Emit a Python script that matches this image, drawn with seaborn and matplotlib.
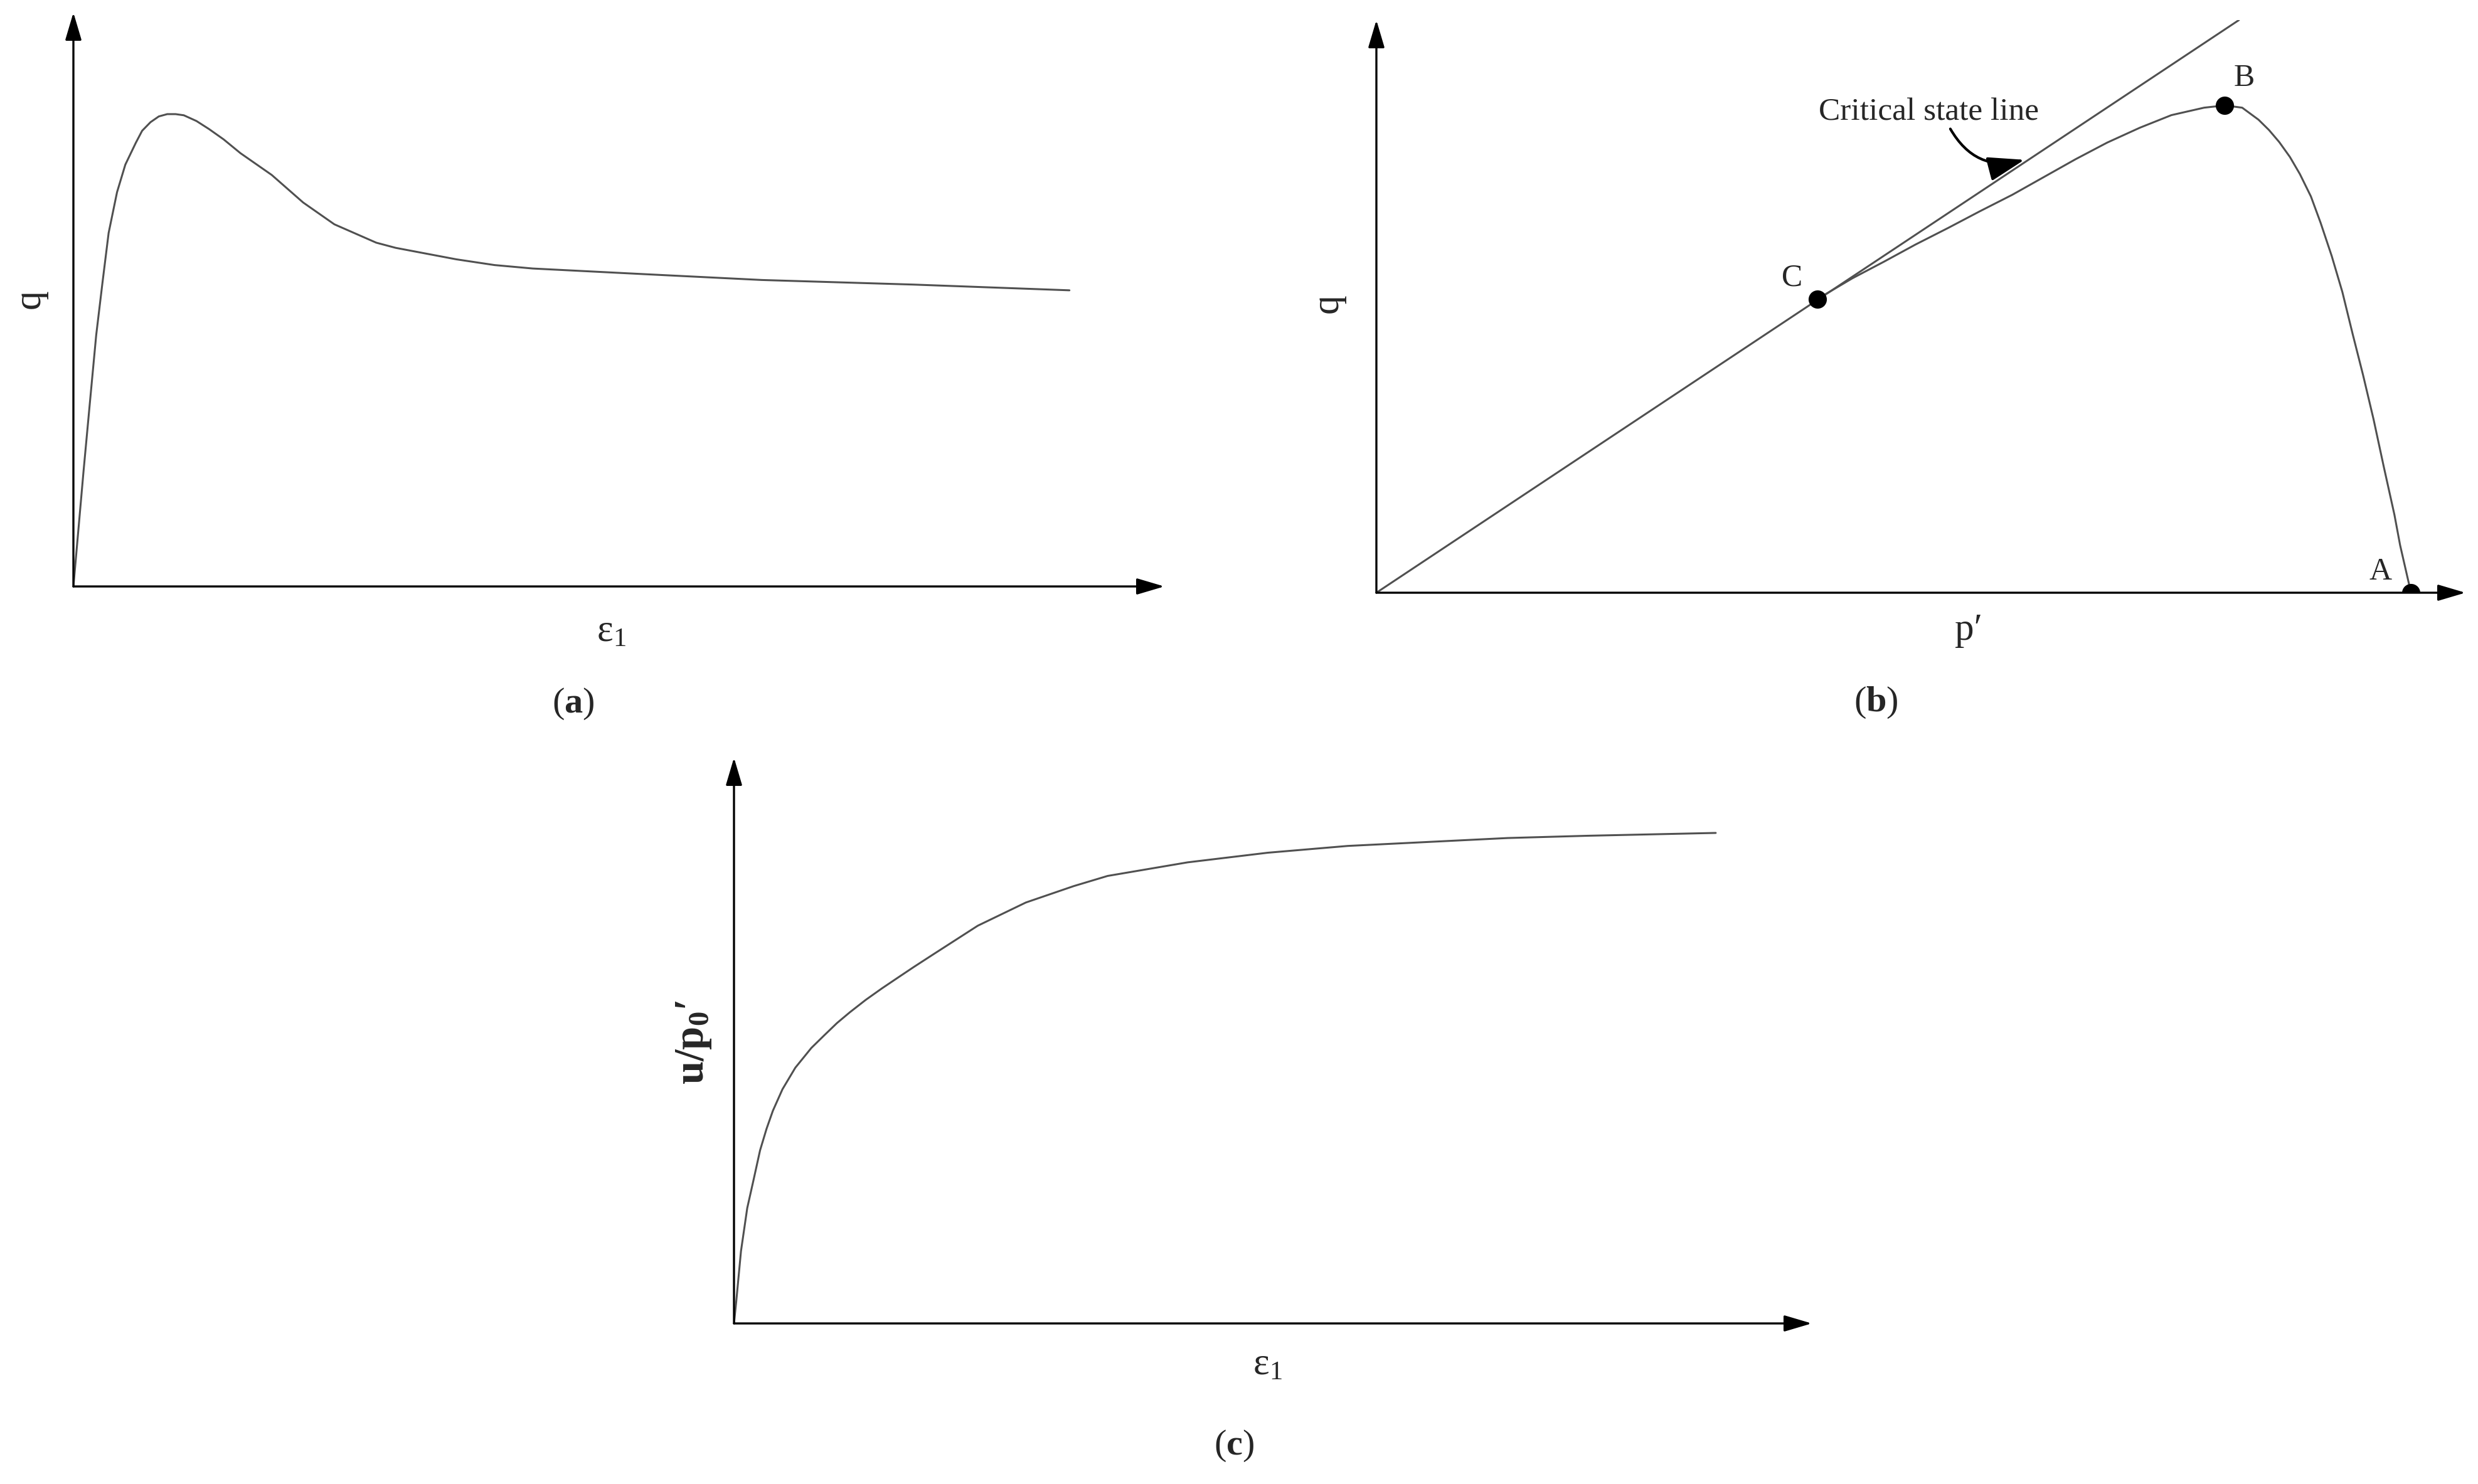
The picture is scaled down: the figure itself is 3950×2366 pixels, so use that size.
import matplotlib
matplotlib.use("Agg")
import matplotlib.pyplot as plt
import seaborn as sns
import pandas as pd

# ---------------- data (arbitrary units) ----------------
# (a) deviator stress q versus axial strain eps1
a_eps = [0, 0.93, 1.51, 2.09, 2.65, 3.23, 4.00, 4.76, 5.72, 6.30, 7.07, 7.83, 8.60,
         9.37, 10.12, 11.28, 12.43, 13.77, 15.31, 18.18, 21.06, 23.92, 27.76, 29.54,
         35.1, 38.6, 42.1, 52.5, 63.1, 77.0, 91.3]
a_q = [0, 20.1, 32.0, 43.8, 52.7, 61.6, 68.7, 73.5, 77.3, 79.4, 80.9, 81.9, 82.3,
       82.3, 82.1, 81.1, 79.7, 77.9, 75.5, 71.7, 66.9, 63.1, 59.9, 59.0,
       57.0, 56.0, 55.4, 54.4, 53.4, 52.6, 51.6]

# (b) effective stress path in p'-q plane (C -> B -> A)
b_p = [40.5, 43.7, 46.6, 49.5, 52.5, 55.4, 58.4, 61.3, 64.2, 67.1, 70.1, 73.0,
       76.0, 77.9, 79.5, 81.0, 81.96, 82.9, 83.88, 84.8, 85.81, 86.7, 87.72, 88.7,
       89.64, 90.6, 91.56, 92.5, 93.48, 94.0, 95.0]
b_q = [51.3, 54.9, 57.8, 60.8, 63.7, 66.6, 69.5, 72.6, 75.7, 78.6, 81.2, 83.4,
       84.7, 85.1, 84.7, 82.6, 80.8, 78.7, 76.1, 73.1, 69.2, 64.6, 58.8, 52.5,
       45.2, 38.0, 30.3, 22.0, 13.6, 8.3, 0.0]
csl_p = [0, 79.2]
csl_q = [0, 100]
pt_labels = ["A", "B", "C"]
pt_p = [95.0, 77.9, 40.5]
pt_q = [0.0, 85.1, 51.3]

# (c) normalised pore pressure u/p0' versus axial strain eps1
c_eps = [0, 0.21, 0.65, 1.23, 1.83, 2.42, 3.02, 3.61, 4.50, 5.69, 7.18, 8.36, 9.56,
         10.75, 12.23, 13.71, 15.19, 16.68, 18.46, 22.62, 27.08, 31.52, 34.67,
         42.09, 49.52, 56.94, 64.36, 71.79, 79.21, 91.09]
c_u = [0, 3.9, 12.8, 20.4, 25.5, 30.6, 34.4, 37.6, 41.4, 45.2, 48.7, 50.9, 53.1,
       55.0, 57.2, 59.2, 61.1, 63.0, 65.2, 70.3, 74.4, 77.3, 79.1,
       81.5, 83.2, 84.4, 85.1, 85.8, 86.2, 86.7]

# ---------------- style ----------------
sns.set_style("white")
plt.rcParams["font.family"] = ["Liberation Serif", "DejaVu Serif"]
plt.rcParams["mathtext.fontset"] = "custom"
plt.rcParams["mathtext.rm"] = "Liberation Serif"
plt.rcParams["mathtext.it"] = "Liberation Serif:italic"
plt.rcParams["mathtext.bf"] = "Liberation Serif:bold"

CURVE = "#505050"
LW_CURVE = 2.2
LW_AXIS = 2.4
FS = 44
LINE_KW = dict(solid_joinstyle="round", solid_capstyle="round")

W, H = 3950, 2366
fig = plt.figure(figsize=(W / 100, H / 100), dpi=100)
fig.patch.set_facecolor("white")


def make_axes(x0, y_origin, x_tip, y_tip):
    # pixel geometry -> figure fraction
    ax = fig.add_axes([x0 / W, (H - y_origin) / H, (x_tip - x0) / W, (y_origin - y_tip) / H])
    ax.set_xlim(0, 100)
    ax.set_ylim(0, 100)
    ax.set_axis_off()
    arrow = dict(arrowstyle="-|>,head_length=2.7,head_width=0.8", mutation_scale=10,
                 lw=LW_AXIS, color="black", shrinkA=0, shrinkB=0)
    ax.annotate("", xy=(1, 0), xytext=(0, 0), xycoords="axes fraction", arrowprops=arrow)
    ax.annotate("", xy=(0, 1), xytext=(0, 0), xycoords="axes fraction", arrowprops=arrow)
    return ax


def panel_tag(ax, x, y, letter):
    ax.text(x, y, "(" + r"$\mathbf{" + letter + "}$" + ")", ha="center", va="center",
            fontsize=42, clip_on=False)


# ---------------- (a) ----------------
axa = make_axes(117, 935, 1856, 20)
df_a = pd.DataFrame({"eps": a_eps, "q": a_q})
sns.lineplot(data=df_a, x="eps", y="q", sort=False, estimator=None, color=CURVE,
             lw=LW_CURVE, ax=axa, **LINE_KW)
axa.set_axis_off()
axa.text(-3.95, 50.1, "q", rotation=90, ha="center", va="center", fontsize=FS)
axa.text(49.3, -8.0, r"$\mathrm{ε}_{1}$", ha="center", va="center", fontsize=FS)
panel_tag(axa, 45.8, -20.5, "a")

# ---------------- (b) ----------------
axb = make_axes(2194, 945, 3930, 32)
df_csl = pd.DataFrame({"p": csl_p, "q": csl_q})
sns.lineplot(data=df_csl, x="p", y="q", sort=False, estimator=None, color=CURVE,
             lw=LW_CURVE, ax=axb)
df_b = pd.DataFrame({"p": b_p, "q": b_q})
sns.lineplot(data=df_b, x="p", y="q", sort=False, estimator=None, color=CURVE,
             lw=LW_CURVE, ax=axb, **LINE_KW)
df_pts = pd.DataFrame({"p": pt_p, "q": pt_q, "lab": pt_labels})
sns.scatterplot(data=df_pts, x="p", y="q", color="black", s=440, linewidth=0,
                zorder=5, ax=axb)
axb.set_axis_off()
offsets = {"A": (-35, 24), "B": (22, 31), "C": (-29, 24)}
for lab, p, q in zip(pt_labels, pt_p, pt_q):
    axb.annotate(lab, xy=(p, q), xytext=offsets[lab], textcoords="offset points",
                 ha="center", va="center", fontsize=36)
axb.text(50.7, 83.9, "Critical state line", ha="center", va="center", fontsize=37)
axb.annotate("", xy=(59.5, 75.6), xytext=(52.7, 81.0),
             arrowprops=dict(arrowstyle="-|>,head_length=1.8,head_width=0.6",
                             mutation_scale=20, lw=3, color="black",
                             connectionstyle="arc3,rad=0.38", shrinkA=0, shrinkB=0))
axb.text(-4.43, 50.5, "q", rotation=90, ha="center", va="center", fontsize=FS)
axb.text(54.4, -6.6, "p′", ha="center", va="center", fontsize=FS)
panel_tag(axb, 45.9, -19.2, "b")

# ---------------- (c) ----------------
axc = make_axes(1170, 2110, 2888, 1208)
df_c = pd.DataFrame({"eps": c_eps, "u": c_u})
sns.lineplot(data=df_c, x="eps", y="u", sort=False, estimator=None, color=CURVE,
             lw=LW_CURVE, ax=axc, **LINE_KW)
axc.set_axis_off()
axc.text(-3.7, 49.7, r"$\mathbf{u/p}_{\mathbf{0}}$" + "′", rotation=90, ha="center",
         va="center", fontsize=48, fontweight="bold")
axc.text(49.5, -7.4, r"$\mathrm{ε}_{1}$", ha="center", va="center", fontsize=FS)
panel_tag(axc, 46.4, -21.7, "c")

fig.savefig("out.png", dpi=100, facecolor="white")
